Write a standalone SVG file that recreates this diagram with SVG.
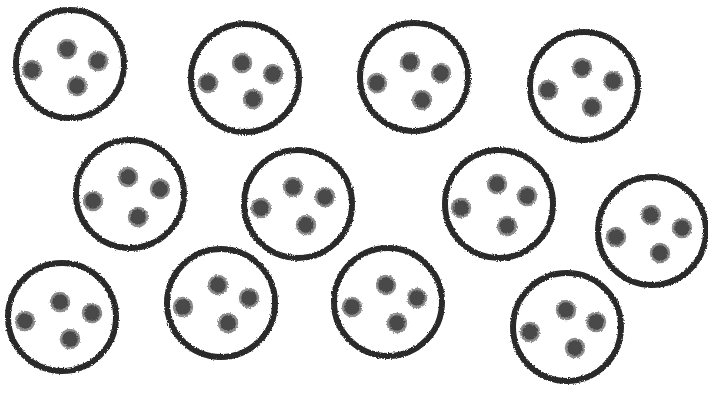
<svg xmlns="http://www.w3.org/2000/svg" width="708" height="395" viewBox="0 0 708 395">
<defs>
<filter id="rough" x="-10%" y="-10%" width="120%" height="120%">
<feTurbulence type="fractalNoise" baseFrequency="0.7" numOctaves="2" seed="3" result="n"/>
<feDisplacementMap in="SourceGraphic" in2="n" scale="3" xChannelSelector="R" yChannelSelector="G" result="d"/>
<feGaussianBlur in="d" stdDeviation="0.5"/>
</filter>
<style>
.cell{fill:#ffffff;stroke:#2b2b2b;stroke-width:6}
.dot{fill:#4a4a4a;stroke:#8c8c8c;stroke-width:2.5}
</style>
</defs>
<rect width="708" height="395" fill="#ffffff"/>
<g filter="url(#rough)">
<g id="cell1"><circle class="cell" cx="70" cy="64" r="54"/>
<circle class="dot" cx="67" cy="49" r="9"/><circle class="dot" cx="98" cy="61" r="9"/><circle class="dot" cx="32" cy="70" r="9"/><circle class="dot" cx="77" cy="86" r="9"/></g>
<g id="cell2"><circle class="cell" cx="245" cy="78" r="54"/>
<circle class="dot" cx="242" cy="63" r="9"/><circle class="dot" cx="273" cy="74" r="9"/><circle class="dot" cx="208" cy="83" r="9"/><circle class="dot" cx="253" cy="99" r="9"/></g>
<g id="cell3"><circle class="cell" cx="414" cy="77" r="54"/>
<circle class="dot" cx="410" cy="62" r="9"/><circle class="dot" cx="441" cy="73" r="9"/><circle class="dot" cx="377" cy="83" r="9"/><circle class="dot" cx="422" cy="100" r="9"/></g>
<g id="cell4"><circle class="cell" cx="584" cy="86" r="54"/>
<circle class="dot" cx="582" cy="68" r="9"/><circle class="dot" cx="613" cy="81" r="9"/><circle class="dot" cx="548" cy="90" r="9"/><circle class="dot" cx="592" cy="107" r="9"/></g>
<g id="cell5"><circle class="cell" cx="130" cy="194" r="54"/>
<circle class="dot" cx="128" cy="177" r="9"/><circle class="dot" cx="160" cy="189" r="9"/><circle class="dot" cx="93" cy="201" r="9"/><circle class="dot" cx="138" cy="217" r="9"/></g>
<g id="cell6"><circle class="cell" cx="298" cy="204" r="54"/>
<circle class="dot" cx="293" cy="187" r="9"/><circle class="dot" cx="325" cy="197" r="9"/><circle class="dot" cx="261" cy="208" r="9"/><circle class="dot" cx="306" cy="225" r="9"/></g>
<g id="cell7"><circle class="cell" cx="499" cy="204" r="54"/>
<circle class="dot" cx="497" cy="184" r="9"/><circle class="dot" cx="527" cy="196" r="9"/><circle class="dot" cx="461" cy="208" r="9"/><circle class="dot" cx="507" cy="226" r="9"/></g>
<g id="cell8"><circle class="cell" cx="652" cy="231" r="54"/>
<circle class="dot" cx="651" cy="215" r="9"/><circle class="dot" cx="682" cy="228" r="9"/><circle class="dot" cx="616" cy="237" r="9"/><circle class="dot" cx="660" cy="253" r="9"/></g>
<g id="cell9"><circle class="cell" cx="62" cy="317" r="54"/>
<circle class="dot" cx="60" cy="302" r="9"/><circle class="dot" cx="92" cy="313" r="9"/><circle class="dot" cx="25" cy="321" r="9"/><circle class="dot" cx="70" cy="339" r="9"/></g>
<g id="cell10"><circle class="cell" cx="221" cy="303" r="54"/>
<circle class="dot" cx="218" cy="285" r="9"/><circle class="dot" cx="249" cy="298" r="9"/><circle class="dot" cx="183" cy="307" r="9"/><circle class="dot" cx="228" cy="323" r="9"/></g>
<g id="cell11"><circle class="cell" cx="388" cy="302" r="54"/>
<circle class="dot" cx="386" cy="285" r="9"/><circle class="dot" cx="417" cy="298" r="9"/><circle class="dot" cx="352" cy="307" r="9"/><circle class="dot" cx="397" cy="323" r="9"/></g>
<g id="cell12"><circle class="cell" cx="567" cy="327" r="54"/>
<circle class="dot" cx="566" cy="310" r="9"/><circle class="dot" cx="596" cy="322" r="9"/><circle class="dot" cx="530" cy="332" r="9"/><circle class="dot" cx="575" cy="348" r="9"/></g>
</g>
</svg>
